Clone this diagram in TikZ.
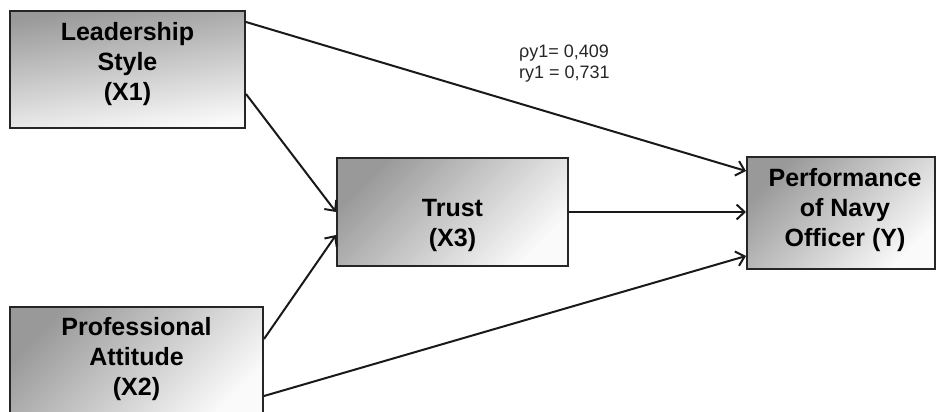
\documentclass[tikz,border=0pt]{standalone}
\usepackage{fontspec}
\setmainfont{Liberation Sans}
\usetikzlibrary{arrows.meta}

\tikzset{
  varbox/.style={draw=black!85, line width=2pt, inner sep=0pt,
    top color=black!40, bottom color=black!2, shading angle=#1},
  varbox/.default=45,
  vartext/.style={font=\fontsize{25}{30}\selectfont\bfseries, align=center,
    inner sep=0pt, text=black},
  link/.style={draw=black!90, line width=2pt,
    -{Straight Barb[length=8pt,width=15pt]}},
  coeftext/.style={font=\fontsize{18}{21}\selectfont, align=left,
    inner sep=0pt, text=black!85}
}

\begin{document}
\begin{tikzpicture}[x=1pt, y=-1pt]
  \path[use as bounding box, clip] (0,0) rectangle (937,412);

  % variable boxes
  \node[varbox=8, minimum width=235pt, minimum height=117pt] (X1) at (127.5,69.5) {};
  \node[varbox, minimum width=253pt, minimum height=113pt] (X2) at (136.5,363.5) {};
  \node[varbox, minimum width=231pt, minimum height=108pt] (X3) at (452.5,212) {};
  \node[varbox, minimum width=188pt, minimum height=112pt] (Y)  at (841,213) {};

  % box labels
  \node[vartext] (X1t) at (127.5,64)  {Leadership\\Style\\(X1)};
  \node[vartext] (X2t) at (136.5,359) {Professional\\Attitude\\(X2)};
  \node[vartext] (X3t) at (452.5,225) {Trust\\(X3)};
  \node[vartext] (Yt)  at (845,210)   {Performance\\of Navy\\Officer (Y)};

  % path coefficients
  \node[coeftext, anchor=west] (coef) at (519,64) {ρy1= 0,409\\ry1 = 0,731};

  % causal paths
  \draw[link] ([yshift=-12pt]X1.north east) -- ([yshift=-15pt]Y.north west);
  \draw[link] ([yshift=-84pt]X1.north east) -- (X3.west);
  \draw[link] ([yshift=-33pt]X2.north east) -- ([yshift=-23pt]X3.west);
  \draw[link] ([yshift=-90pt]X2.north east) -- ([yshift=14pt]Y.south west);
  \draw[link] (X3.east) -- (X3.east -| Y.west);
\end{tikzpicture}
\end{document}
